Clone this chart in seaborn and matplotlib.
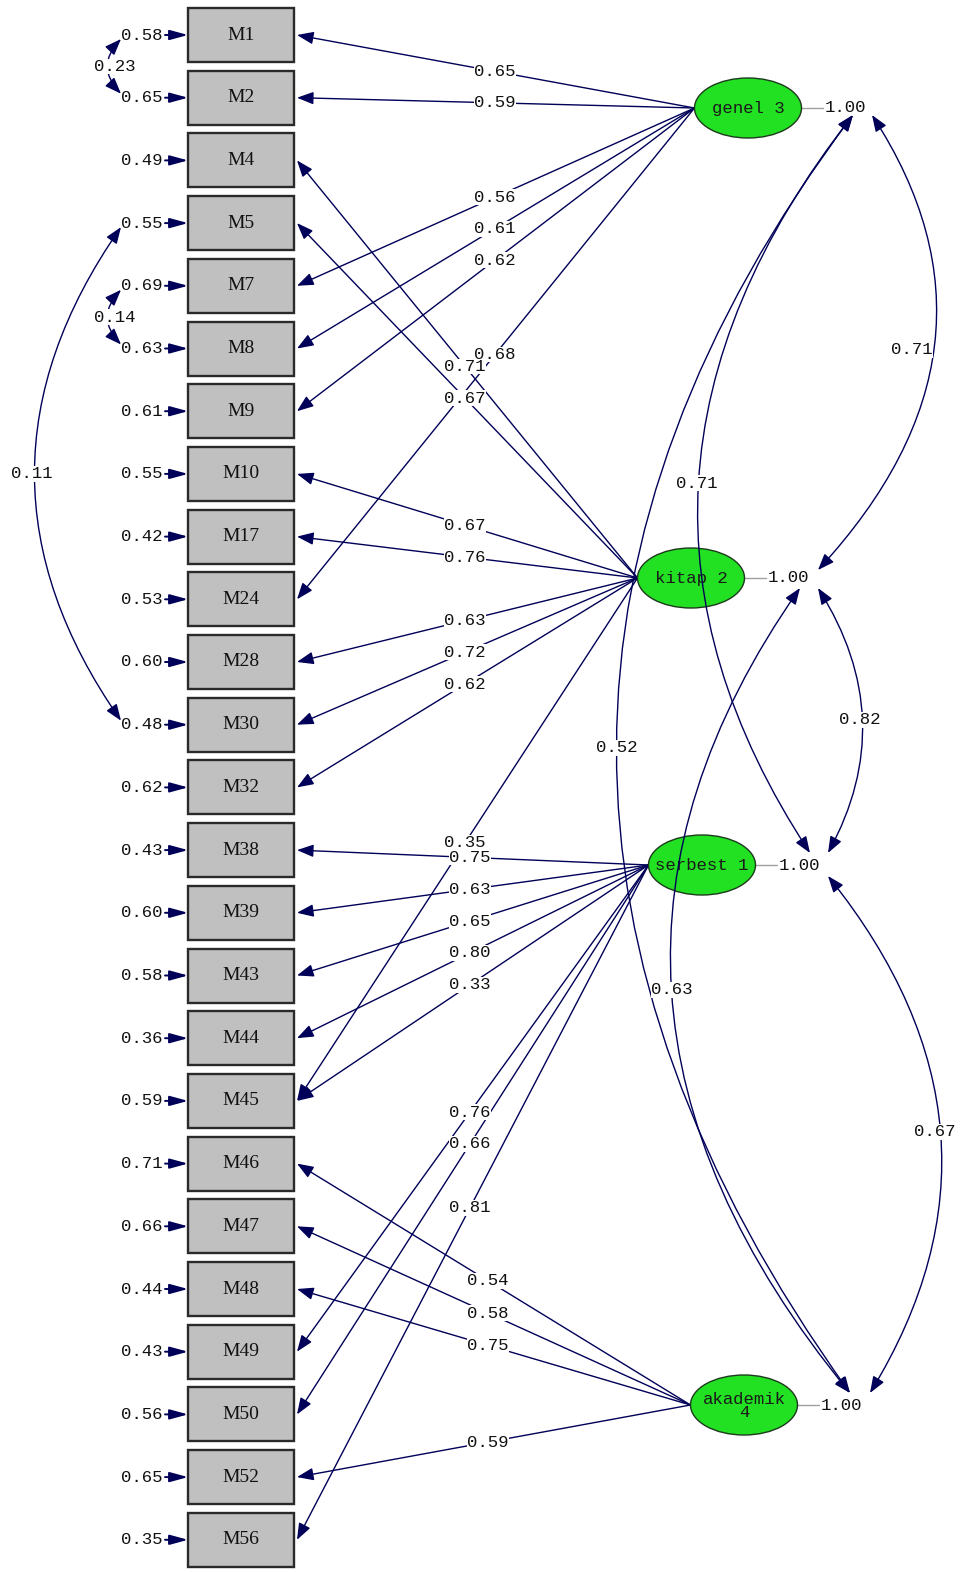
import numpy as np
import matplotlib
matplotlib.use("Agg")
import matplotlib.pyplot as plt
import seaborn as sns
from matplotlib.patches import Rectangle, Ellipse, FancyArrowPatch
from matplotlib.path import Path

### data
items = ["M1", "M2", "M4", "M5", "M7", "M8", "M9", "M10", "M17", "M24",
         "M28", "M30", "M32", "M38", "M39", "M43", "M44", "M45", "M46",
         "M47", "M48", "M49", "M50", "M52", "M56"]
errors = [0.58, 0.65, 0.49, 0.55, 0.69, 0.63, 0.61, 0.55, 0.42, 0.53,
          0.60, 0.48, 0.62, 0.43, 0.60, 0.58, 0.36, 0.59, 0.71,
          0.66, 0.44, 0.43, 0.56, 0.65, 0.35]

latents = ["genel 3", "kitap 2", "serbest 1", "akademik\n4"]
latent_var = [1.00, 1.00, 1.00, 1.00]

genel_items = ["M1", "M2", "M7", "M8", "M9", "M24"]
genel_load = [0.65, 0.59, 0.56, 0.61, 0.62, 0.68]
kitap_items = ["M4", "M5", "M10", "M17", "M28", "M30", "M32", "M45"]
kitap_load = [0.71, 0.67, 0.67, 0.76, 0.63, 0.72, 0.62, 0.35]
serbest_items = ["M38", "M39", "M43", "M44", "M45", "M49", "M50", "M56"]
serbest_load = [0.75, 0.63, 0.65, 0.80, 0.33, 0.76, 0.66, 0.81]
akademik_items = ["M46", "M47", "M48", "M52"]
akademik_load = [0.54, 0.58, 0.75, 0.59]

# latent correlations
corr_pairs = [(0, 1), (1, 2), (2, 3), (0, 2), (1, 3), (0, 3)]
corr_vals = [0.71, 0.82, 0.67, 0.71, 0.63, 0.52]

# error covariances
ecov_pairs = [("M1", "M2"), ("M7", "M8"), ("M5", "M30")]
ecov_vals = [0.23, 0.14, 0.11]

### layout (pixel space)
W, H = 962, 1573
navy = "#000058"
mono = ["Liberation Mono", "DejaVu Sans Mono"]
serif = ["Liberation Serif", "DejaVu Serif"]

box_x0, box_x1 = 188, 294
box_h = 54
y0, dy = 35, 62.7
item_y = {it: y0 + i * dy for i, it in enumerate(items)}

lat_xy = [(748, 108), (691, 578), (702, 865), (744, 1405)]
lat_w, lat_h = 107, 60
label_x = [495, 465, 470, 488]
# start, end and apex of each correlation curve
corr_ends = {
    (0, 1): ((872, 115), (818, 570), (934, 345)),
    (1, 2): ((818, 588), (828, 853), (862, 720)),
    (2, 3): ((828, 876), (870, 1393), (940, 1132)),
    (0, 2): ((853, 115), (810, 853), (699, 483)),
    (1, 3): ((800, 588), (850, 1393), (672, 990)),
    (0, 3): ((853, 115), (850, 1393), (617, 748)),
}
corr_label_xy = {(0, 1): (912, 350), (1, 2): (860, 720), (2, 3): (935, 1132),
                 (0, 2): (697, 483), (1, 3): (672, 990), (0, 3): (617, 748)}
ecov_apex_x = {("M1", "M2"): 108, ("M7", "M8"): 108, ("M5", "M30"): 35}
ecov_label_x = {("M1", "M2"): 115, ("M7", "M8"): 115, ("M5", "M30"): 32}

sns.set_theme(style="white")
plt.rcParams["font.family"] = mono

fig = plt.figure(figsize=(W / 100, H / 100), dpi=100)
ax = fig.add_axes([0, 0, 1, 1])
ax.set_xlim(0, W)
ax.set_ylim(H, 0)
ax.axis("off")

head1 = "-|>,head_length=1.0,head_width=0.38"
head2 = "<|-|>,head_length=1.0,head_width=0.38"


def qbez(p0, apex, p1):
    p0, apex, p1 = np.array(p0, float), np.array(apex, float), np.array(p1, float)
    c = 2 * apex - (p0 + p1) / 2
    return Path([p0, c, p1], [Path.MOVETO, Path.CURVE3, Path.CURVE3])


def num_label(x, y, v, bg=True, **kw):
    bbox = dict(fc="white", ec="none", pad=0.2) if bg else None
    ax.text(x, y, f"{v:.2f}", fontsize=12.5, family=mono, color="#111111",
            ha="center", va="center", bbox=bbox, zorder=6, **kw)


# observed variable boxes and error terms
for it, e in zip(items, errors):
    y = item_y[it]
    ax.add_patch(Rectangle((box_x0, y - box_h / 2), box_x1 - box_x0, box_h,
                           fc="#c0c0c0", ec="#2a2a2a", lw=1.7, zorder=3))
    ax.text((box_x0 + box_x1) / 2, y, it, fontsize=14, family=serif,
            ha="center", va="center", color="#111111", zorder=4)
    ax.add_patch(FancyArrowPatch((165, y), (box_x0, y),
                                 arrowstyle="-|>,head_length=1.1,head_width=0.3",
                                 mutation_scale=10, color=navy, lw=1.4,
                                 shrinkA=0, shrinkB=0, zorder=4))
    ax.text(163, y, f"{e:.2f}", fontsize=12.5, family=mono, color="#111111",
            ha="right", va="center", zorder=5)

# loadings
load_sets = [(genel_items, genel_load), (kitap_items, kitap_load),
             (serbest_items, serbest_load), (akademik_items, akademik_load)]
for k, (its, vals) in enumerate(load_sets):
    cx, cy = lat_xy[k]
    sx, sy = cx - lat_w / 2, cy
    for it, v in zip(its, vals):
        tx, ty = box_x1 + 3, item_y[it]
        ax.add_patch(FancyArrowPatch((sx, sy), (tx, ty), arrowstyle=head1,
                                     mutation_scale=10, color=navy, lw=1.0,
                                     shrinkA=0, shrinkB=0, zorder=2))
        t = (sx - label_x[k]) / (sx - tx)
        num_label(label_x[k], sy + t * (ty - sy), v)

# latent ellipses
for k, name in enumerate(latents):
    cx, cy = lat_xy[k]
    ax.add_patch(Ellipse((cx, cy), lat_w, lat_h, fc="#22e022", ec="#1c3a1c",
                         lw=1.0, zorder=3))
    ax.text(cx, cy + 1, name, fontsize=12.5, family=mono, ha="center",
            va="center", color="#1a1a1a", linespacing=0.9, zorder=4)
    rx = cx + lat_w / 2
    ax.plot([rx, rx + 22], [cy, cy], color="#a0a0a0", lw=1, zorder=2)
    ax.text(rx + 23, cy, f"{latent_var[k]:.2f}", fontsize=12.5, family=mono,
            ha="left", va="center", color="#111111", zorder=4)

# latent correlations
for pair, v in zip(corr_pairs, corr_vals):
    p0, p1, apex = corr_ends[pair]
    ax.add_patch(FancyArrowPatch(path=qbez(p0, apex, p1), arrowstyle=head2,
                                 mutation_scale=10, color=navy, lw=1.0, zorder=5))
    lx, ly = corr_label_xy[pair]
    num_label(lx, ly, v)

# error covariances
for pair, v in zip(ecov_pairs, ecov_vals):
    ya, yb = item_y[pair[0]], item_y[pair[1]]
    p0, p1 = (121, ya + 4), (121, yb - 4)
    apex = (ecov_apex_x[pair], (ya + yb) / 2)
    ax.add_patch(FancyArrowPatch(path=qbez(p0, apex, p1), arrowstyle=head2,
                                 mutation_scale=10, color=navy, lw=1.0, zorder=2))
    num_label(ecov_label_x[pair], (ya + yb) / 2, v)

fig.savefig("out.png", dpi=100, facecolor="white")
